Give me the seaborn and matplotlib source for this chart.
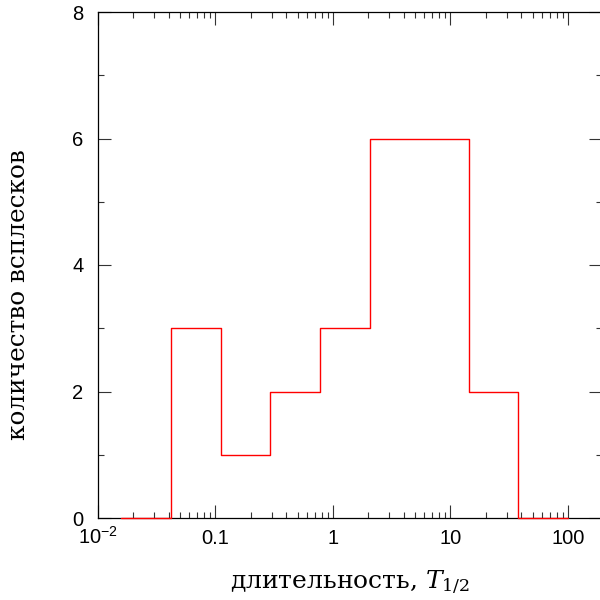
import numpy as np
import pandas as pd
import matplotlib
matplotlib.use("Agg")
import matplotlib.pyplot as plt
import matplotlib.ticker as mticker
import seaborn as sns

# Data (log-spaced bin edges and burst counts)
bin_edges = [0.01585, 0.0419, 0.1107, 0.2929, 0.7743, 2.048, 5.41, 14.3, 37.8, 100.0]
counts = [0, 3, 1, 2, 3, 6, 6, 2, 0]
xtick_values = [0.01, 0.1, 1, 10, 100]
xtick_labels = [r"$\mathregular{10^{-2}}$", "0.1", "1", "10", "100"]
ytick_values = [0, 2, 4, 6, 8]
xlabel_text = r"длительность, $T_{1/2}$"
ylabel_text = "количество всплесков"

sns.set_style("ticks")
plt.rcParams["font.family"] = ["DejaVu Serif"]
plt.rcParams["mathtext.fontset"] = "dejavuserif"
plt.rcParams["text.color"] = "black"
plt.rcParams["axes.labelcolor"] = "black"
plt.rcParams["xtick.labelcolor"] = "black"
plt.rcParams["ytick.labelcolor"] = "black"

df = pd.DataFrame({"edge": bin_edges, "count": counts + [counts[-1]]})

fig = plt.figure(figsize=(6, 6), dpi=100)
ax = fig.add_axes([98 / 600, 82 / 600, 504 / 600, 506 / 600])

sns.lineplot(data=df, x="edge", y="count", drawstyle="steps-post",
             color="red", linewidth=1.0, estimator=None, sort=False, ax=ax)
for ln in ax.get_lines():
    ln.set_zorder(5)
    ln.set_clip_on(False)

ax.set_xscale("log")
ax.set_xlim(0.01, 10 ** 2.29)
ax.set_ylim(0, 8)

ax.xaxis.set_major_locator(mticker.FixedLocator(xtick_values))
ax.xaxis.set_major_formatter(mticker.FixedFormatter(xtick_labels))
ax.xaxis.set_minor_locator(mticker.LogLocator(base=10, subs=np.arange(2, 10), numticks=20))
ax.xaxis.set_minor_formatter(mticker.NullFormatter())
ax.yaxis.set_major_locator(mticker.FixedLocator(ytick_values))
ax.yaxis.set_minor_locator(mticker.MultipleLocator(1))

for s in ax.spines.values():
    s.set_visible(True)
    s.set_linewidth(0.9)
    s.set_color("black")

ax.tick_params(which="both", direction="in", top=True, right=True,
               color="#333333", width=0.8, labelcolor="black")
ax.tick_params(which="major", length=9.5)
ax.tick_params(which="minor", length=4.5)
ax.tick_params(axis="x", which="major", pad=18.5, labelsize=14.5)
ax.tick_params(axis="y", which="major", pad=10.5, labelsize=14.5)

for lab in ax.get_xticklabels():
    lab.set_fontfamily(["Liberation Sans", "DejaVu Sans"])
    lab.set_va("baseline")
for lab in ax.get_yticklabels():
    lab.set_fontfamily(["Liberation Sans", "DejaVu Sans"])

ax.set_xlabel(xlabel_text, fontsize=18, va="baseline", color="black")
ax.set_ylabel(ylabel_text, fontsize=17.8, va="baseline", color="black")
ax.xaxis.set_label_coords(0.5, (518 - 589) / 506)
ax.yaxis.set_label_coords((25 - 98) / 504, (518 - 295) / 506)

fig.savefig("out.png", dpi=100)
